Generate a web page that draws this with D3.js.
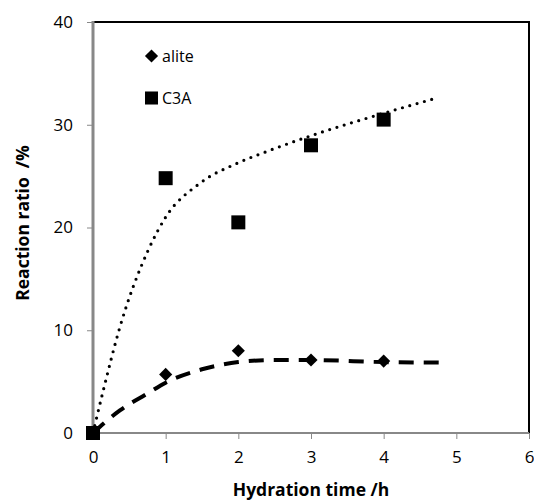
<!DOCTYPE html>
<html lang="en">
<head>
<meta charset="UTF-8">
<title>Reaction ratio</title>
<script src="https://d3js.org/d3.v7.min.js"></script>
<style>
    body { margin: 0; background: #fff; }
    text { font-family: "Open Sans", sans-serif; fill: #000; }
    .tick text { font-size: 17px; }
    .tick line { stroke: #888; }
    .axisTitle { font-size: 17.5px; font-weight: bold; white-space: pre; }
    .legend text { font-size: 16px; }
</style>
</head>
<body>
<svg width="534" height="501"></svg>
<script>
    // measured points
    let hours = [0, 1, 2, 3, 4];
    let alite = [0, 5.7, 8.0, 7.1, 7.0];
    let c3a = [0, 24.8, 20.5, 28.0, 30.5];

    // trend lines
    let c3aTrendX = [0, 0.14, 0.37, 0.76, 1.0, 1.47, 2.0, 2.43, 3.03, 3.99, 4.73];
    let c3aTrendY = [0, 4.1, 10.3, 17.8, 21.0, 24.3, 26.3, 27.5, 29.0, 31.1, 32.6];
    let aliteTrendX = [0, 0.37, 0.74, 1.0, 1.5, 2.0, 2.5, 3.0, 4.0, 4.85];
    let aliteTrendY = [0, 2.2, 3.8, 4.9, 6.2, 6.9, 7.1, 7.1, 6.9, 6.85];

    let xTicks = [0, 1, 2, 3, 4, 5, 6];
    let yTicks = [0, 10, 20, 30, 40];

    let svg = d3.select('svg');
    let margins = {left: 93, right: 5, top: 22, bottom: 68};
    let W = 534, H = 501;

    let xscale = d3.scaleLinear().domain([0, 6]).range([margins.left, W - margins.right]);
    let yscale = d3.scaleLinear().domain([0, 40]).range([H - margins.bottom, margins.top]);

    // frame: top and right black
    svg.append('path')
        .attr('d', 'M' + xscale(0) + ',' + yscale(40) + 'H' + xscale(6) + 'V' + yscale(0))
        .attr('fill', 'none').attr('stroke', '#000').attr('stroke-width', 2);

    let xAxis = svg.append('g')
        .attr('transform', 'translate(0,' + yscale(0) + ')')
        .call(d3.axisBottom(xscale).tickValues(xTicks).tickSize(6).tickPadding(12).tickFormat(d3.format('d')));
    xAxis.select('.domain').remove();
    let yAxis = svg.append('g')
        .attr('transform', 'translate(' + xscale(0) + ',0)')
        .call(d3.axisLeft(yscale).tickValues(yTicks).tickSize(6).tickPadding(14).tickFormat(d3.format('d')));
    yAxis.select('.domain').remove();

    // gray axis lines
    svg.append('line')
        .attr('x1', xscale(0)).attr('x2', xscale(6)).attr('y1', yscale(0)).attr('y2', yscale(0))
        .attr('stroke', '#888').attr('stroke-width', 2);
    svg.append('line')
        .attr('x1', xscale(0)).attr('x2', xscale(0)).attr('y1', yscale(0) + 1).attr('y2', yscale(40) - 1)
        .attr('stroke', '#888').attr('stroke-width', 3);

    svg.append('text').attr('class', 'axisTitle')
        .attr('x', 311).attr('y', 496).attr('text-anchor', 'middle')
        .text('Hydration time /h');
    svg.append('text').attr('class', 'axisTitle')
        .attr('transform', 'translate(29,223) rotate(-90)')
        .attr('text-anchor', 'middle')
        .text('Reaction ratio  /%');

    let line = d3.line()
        .x(function (d) { return xscale(d[0]); })
        .y(function (d) { return yscale(d[1]); })
        .curve(d3.curveMonotoneX);

    svg.append('path')
        .attr('d', line(d3.zip(c3aTrendX, c3aTrendY)))
        .attr('fill', 'none').attr('stroke', '#000').attr('stroke-width', 3.2)
        .attr('stroke-linecap', 'round').attr('stroke-dasharray', '0,7.6');
    svg.append('path')
        .attr('d', line(d3.zip(aliteTrendX, aliteTrendY)))
        .attr('fill', 'none').attr('stroke', '#000').attr('stroke-width', 4)
        .attr('stroke-dasharray', '15,10');

    let diamond = d3.symbol().type(d3.symbolDiamond2).size(110);
    let square = d3.symbol().type(d3.symbolSquare).size(196);

    svg.append('g').selectAll('path').data(d3.zip(hours, alite)).join('path')
        .attr('d', diamond)
        .attr('transform', function (d) { return 'translate(' + xscale(d[0]) + ',' + yscale(d[1]) + ')'; })
        .attr('fill', '#000');
    svg.append('g').selectAll('path').data(d3.zip(hours, c3a)).join('path')
        .attr('d', square)
        .attr('transform', function (d) { return 'translate(' + xscale(d[0]) + ',' + yscale(d[1]) + ')'; })
        .attr('fill', '#000');

    // legend
    let legend = svg.append('g').attr('class', 'legend');
    legend.append('path').attr('d', diamond).attr('transform', 'translate(151.5,56)');
    legend.append('text').attr('x', 162).attr('y', 56).attr('dy', '0.35em').text('alite');
    legend.append('path').attr('d', d3.symbol().type(d3.symbolSquare).size(170)).attr('transform', 'translate(151.5,98)');
    legend.append('text').attr('x', 162).attr('y', 98).attr('dy', '0.35em').text('C3A');
</script>
</body>
</html>
